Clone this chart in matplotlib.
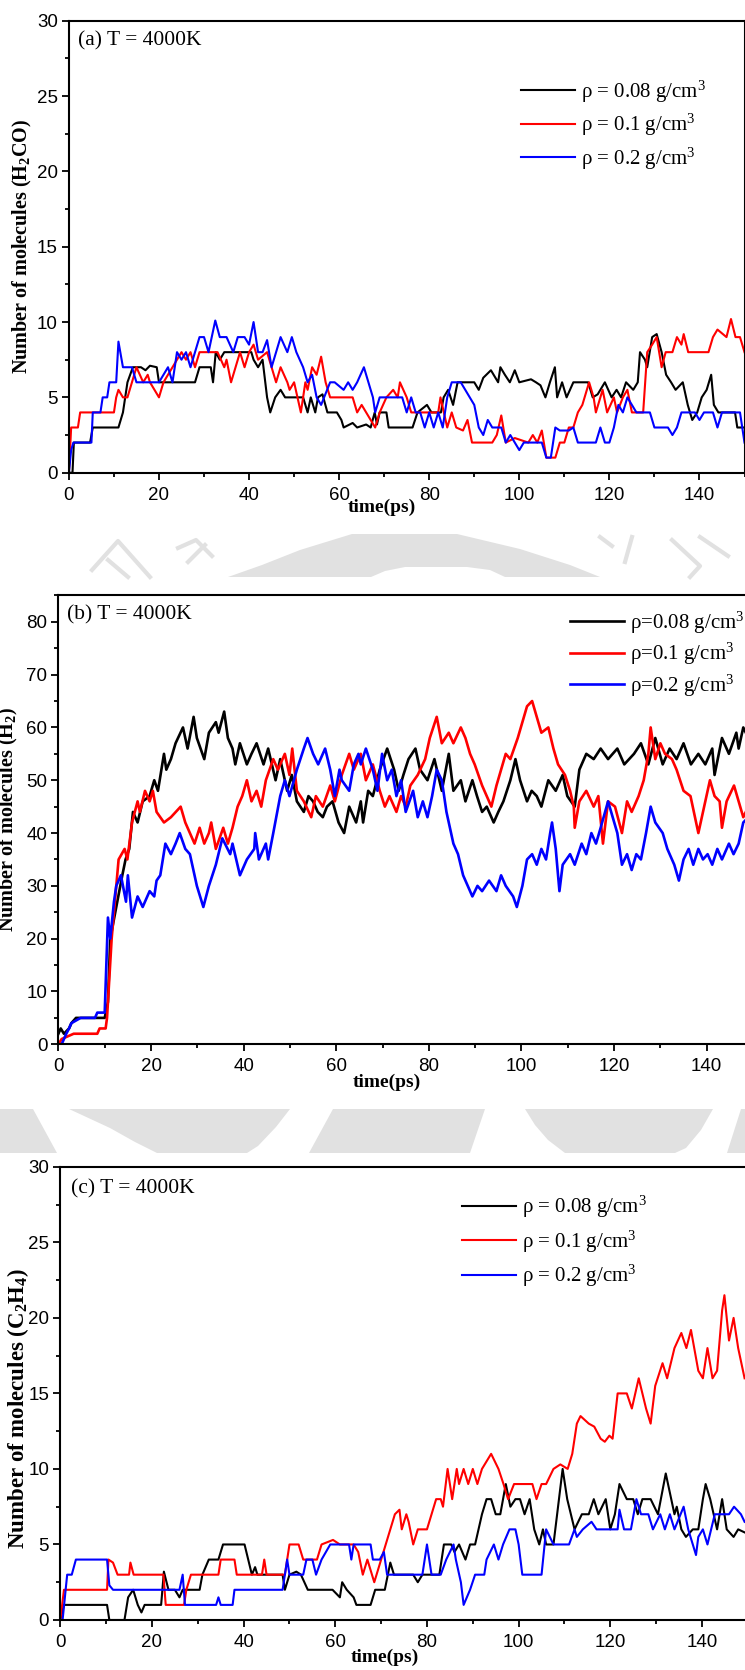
import numpy as np
import matplotlib
matplotlib.use('Agg')
import matplotlib.pyplot as plt
from matplotlib.patches import Polygon
from matplotlib.lines import Line2D
from matplotlib.ticker import MultipleLocator

plt.rcParams.update({
    'font.family': 'Liberation Serif',
    'mathtext.fontset': 'custom',
    'mathtext.rm': 'Liberation Serif',
    'mathtext.it': 'Liberation Serif:italic',
    'mathtext.bf': 'Liberation Serif:bold',
    'axes.linewidth': 1.5,
})

W, H = 745, 1670

# ── data: (time ps, number of molecules) ────────────────────────────────────
densities = ['0.08', '0.1', '0.2']
colors = ['black', 'red', 'blue']

h2co_008 = [(0,0),(0.8,0),(1.1,2),(4.7,2),(5.3,3),(11,3),(12,4),(13,6),(14.2,7),(16,7),(17,6.8),(18,7.1),(19.5,7),(20,6),(28,6),(29,7),(31.5,7),(32,6),(32.6,8),(33.5,7.5),(34.5,8),(40.5,8),(41,7.5),(42,7),(43,7.5),(44,5),(44.7,4),(45.8,5),(47,5.5),(48,5),(52,5),(53,4),(53.7,5),(54.7,4),(55.3,5),(56.3,5.2),(57.4,4),(59.5,4),(60.5,3.5),(61,3),(63,3.3),(64,3),(66,3.2),(67,3),(67.9,4),(68.4,3.2),(69,4),(70.5,4),(71,3),(76.3,3),(77.4,4),(79.5,4.5),(80.5,4),(82.6,4),(83.2,5),(84.2,5.5),(85.3,4.5),(86.3,6),(87.9,6),(90,6),(91,5.5),(92,6.3),(93.7,6.8),(95.3,6),(95.8,7),(96.8,6.5),(97.9,6),(99,6.8),(100,6),(102.6,6.2),(103.7,6),(104.7,5.8),(105.8,5),(106.8,6),(107.9,7),(108.4,5),(109.5,6),(110.5,5),(112,6),(115.3,6),(116.3,5),(117.4,5.2),(119,6),(120.5,5),(121.6,5.5),(122.6,5),(123.7,6),(125.3,5.5),(126.3,6),(126.8,8),(127.9,7.5),(128.4,7),(129.5,9),(130.5,9.2),(131.6,8),(132.6,6.5),(133.7,6),(134.7,5.5),(136.3,6),(137.4,4.5),(138.4,3.5),(139.5,4),(140.5,5),(141.6,5.5),(142.6,6.5),(143.2,4.5),(144.2,4),(147.9,4),(148.4,3),(150,3)]
h2co_01 = [(0,0),(0.5,3),(2,3),(2.5,4),(10,4),(10.5,5),(11,5.5),(12,5),(13,5),(14,6),(15,7),(16.5,6),(17.5,6.5),(18,6),(20,5),(21,6),(22,6.5),(23,7),(25,8),(26,7.5),(27,8),(28,7),(29,8),(33,8),(34.5,7),(35,7.5),(36,6),(37,7),(38,8),(39,7),(40,8),(41,8.5),(42,7.5),(44,8),(45,7),(46,6),(47,7),(48.5,6),(49,5.5),(50,6),(51.5,4),(52.5,6),(53,5.5),(54,7),(55,6.5),(56,7.7),(57,6),(58,5),(63,5),(64,4),(65,4.5),(66,4),(68,3),(69,4),(70.5,5),(72,5.5),(73,5),(73.5,6),(75,5),(76,4),(82,4),(82.5,5),(84,3),(85,4),(86,3),(87.5,2.8),(88.5,3.5),(89.5,2),(93,2),(94,2),(95,2.5),(96,3.8),(97,2),(99,2.3),(102,2),(103,2.5),(104,2),(105,2.8),(106,1),(108,1),(109,2),(110,2),(111,3),(112,3),(113,4),(114,4.5),(115.5,6),(116.5,5),(117,4),(118.5,5.5),(119.5,4),(121,5),(121.7,4),(123,5),(124,5.5),(125,4),(127.5,4),(128.4,8),(129.5,8.5),(130.5,9),(131.6,7),(132.5,8),(134,8),(135,9),(136,8.5),(136.5,9.2),(137.5,8),(142,8),(142.5,8.5),(143,9),(144,9.5),(146,9),(147,10.2),(148,9),(149,9),(150,8)]
h2co_02 = [(0,0),(0.5,1.5),(1,2),(5,2),(5.3,4),(7,4),(7.5,5),(8.5,5),(9,6),(10.5,6),(11,8.7),(12,7),(14,7),(15,6),(20,6),(21,6.5),(22,7),(23,6),(24,8),(25,7.5),(26,8),(27,7),(28,8),(29,9),(30,9),(31,8),(32.5,10.1),(33.5,9),(35,9),(36.5,8),(37.5,9),(39,9),(40,8.5),(41,10),(42,8),(43,8),(44,8.8),(45,7),(46,8),(47,9),(48.5,8),(49.5,9),(50.5,8),(52,7),(53,6),(54,6.5),(55,5),(56,4.5),(58,6),(59,6),(61,5.5),(62,6),(63,5.5),(64,6),(65.5,7),(66.5,6),(67.5,5),(68,4),(69,5),(74,5),(75,4),(76,5),(77,4),(78,4),(79,3),(80,4),(81,3),(82,4),(83,3),(84,5),(85,6),(87,6),(89,5),(90,4.5),(91,3),(92,2.5),(93,3.5),(94,3),(96,3),(97,2),(98,2.5),(100,1.5),(101,2),(105,2),(106,1),(107,1),(108,3),(109,2.8),(111,2.8),(112,3),(113,2),(117,2),(118,3),(119,2),(120,2),(121,3),(122,4.5),(123,4),(124,5),(125,4.5),(126,4),(129,4),(130,3),(133,3),(134,2.5),(135,3),(136,4),(139,4),(140,3.5),(141,4),(143,4),(144,3),(145,4),(149,4),(150,2)]

h2_008 = [(0,2),(0.5,3),(1.2,2),(2.3,3),(2.8,4),(3.8,5),(10,5),(10.7,8),(11.2,20),(12.5,26),(13.8,32),(14.5,35),(15.3,37),(16.1,44),(17.1,42),(18.2,46),(19.7,47),(20.7,50),(21.5,48),(22.8,55),(23.3,52),(24.3,54),(25.3,57),(26.9,60),(27.9,56),(29.2,62),(29.9,58),(31.5,54),(32.5,59),(34,61),(34.6,59),(35.8,63),(36.6,58),(37.6,56),(38.2,53),(39.2,57),(40.7,53),(41.7,55),(42.8,57),(44.3,53),(45.3,56),(46.9,50),(47.9,54),(49.4,48),(50.4,51),(51.5,46),(53,44),(54,47),(55,46),(56,44),(57.1,43),(58,45),(59.2,46),(60.5,42),(61.7,40),(62.8,45),(64.3,42),(65.3,46),(65.8,42),(66.9,48),(67.9,47),(69.4,52),(71,56),(72.5,52),(73.5,48),(74.5,51),(75.6,54),(77.1,56),(78.1,52),(79.7,50),(81.2,54),(82.8,48),(84.3,55),(85.3,48),(86.9,50),(87.9,46),(89.4,50),(90.4,47),(91.5,44),(92.5,45),(94,42),(95,44),(96.1,46),(97.6,50),(98.7,54),(99.7,50),(101.2,46),(102.2,48),(103.3,47),(104.3,45),(105.8,50),(107.4,48),(108.9,51),(109.9,47),(111.5,45),(112.5,52),(114,55),(115.6,54),(117.1,56),(118.7,54),(120.7,56),(122.2,53),(124.3,55),(125.8,57),(127.4,53),(128.9,58),(130.5,53),(132,56),(133.5,54),(135,57),(136.6,53),(138.2,55),(139.7,53),(141.2,56),(141.7,51),(143.3,58),(144.8,55),(146.4,59),(146.9,56),(147.9,60),(149,58)]
h2_01 = [(0,0),(0.7,1),(3.3,2),(8.4,2),(8.9,3),(10.2,3),(10.5,5),(11.5,20),(12.5,30),(13,35),(14.3,37),(14.9,35),(15.9,42),(17.1,46),(17.6,44),(18.7,48),(19.7,46),(20.4,48),(21.2,44),(22.8,42),(24.3,43),(26.4,45),(27.4,42),(28.4,40),(29.4,38),(30.5,41),(31.5,38),(32.5,40),(33,42),(34,37),(35.6,41),(36.6,38),(37.6,41),(38.7,45),(39.7,47),(40.7,50),(41.7,46),(42.8,48),(43.8,45),(44.8,50),(46.4,54),(47.4,52),(48.9,55),(49.9,51),(50.5,56),(51.5,48),(53,46),(54.6,43),(55.6,47),(57.1,45),(58.7,49),(59.7,46),(61.2,51),(62.8,55),(63.8,52),(65.3,55),(66.4,50),(67.9,53),(69.4,48),(70.5,45),(71.5,47),(73,44),(74,47),(75,45),(76,49),(77.6,51),(79.2,54),(80.2,58),(81.7,62),(82.8,57),(84.3,59),(85.3,57),(86.9,60),(87.9,58),(88.9,55),(89.9,53),(91.5,49),(93,46),(93.5,45),(94.6,49),(95.6,52),(96.6,55),(97.6,54),(99.2,58),(100.2,61),(101.2,64),(102.3,65),(103.3,62),(104.3,59),(105.8,60),(106.9,56),(107.9,53),(109.4,51),(110.5,48),(111.3,45),(111.5,41),(112.5,46),(114,48),(115.6,45),(116.6,47),(117.6,38),(118.7,46),(120.2,45),(121.7,40),(122.8,46),(123.8,44),(125.3,47),(126.4,50),(127.4,55),(127.9,60),(128.9,54),(130,57),(131,55),(132.5,54),(133.5,52),(135,48),(136.5,47),(138.2,40),(139.2,44),(140.7,50),(141.7,47),(142.8,46),(143.3,41),(144.3,46),(145.9,49),(146.9,46),(147.9,43),(149,45)]
h2_02 = [(0,0),(0.7,0),(1.2,1),(1.7,2),(2.3,3),(2.8,4),(4.8,5),(7.9,5),(8.4,6),(10,6),(10.7,24),(11.2,20),(12,27),(12.5,30),(13.5,32),(14.6,27),(15,32),(15.9,24),(17.1,28),(18.2,26),(19.7,29),(20.7,28),(21.2,31),(22,32),(23.1,38),(24.3,36),(25.3,38),(26.2,40),(27.4,37),(28.4,36),(29.9,30),(31.3,26),(32.5,30),(34,34),(35.4,39),(37.1,36),(37.6,38),(39.2,32),(40.7,35),(42.3,37),(42.5,40),(43.3,35),(44.8,38),(45.3,35),(46.4,40),(47.9,47),(48.9,50),(49.9,47),(51.5,52),(53,56),(53.8,58),(55,55),(56.1,53),(57.6,56),(58.7,52),(59.7,47),(60.7,52),(61.2,50),(62.8,48),(63.8,53),(64.8,55),(65.3,53),(66.4,56),(67.9,52),(68.9,48),(69.9,55),(71,50),(72,52),(73,47),(74,50),(75,44),(76.6,48),(77.6,43),(78.7,46),(79.7,43),(80.7,47),(81.7,52),(82.8,50),(83.8,44),(85.3,38),(86.3,36),(87.4,32),(88.4,30),(89.4,28),(90.5,30),(91.5,29),(93,31),(94.6,29),(95.6,32),(96.6,30),(98.2,28),(99,26),(100.2,30),(101.2,35),(102.3,36),(103.3,34),(104.3,37),(105.3,35),(106.2,40),(106.6,42),(107.4,37),(108.2,29),(108.9,34),(110.5,36),(111.5,34),(113,38),(114,36),(115.1,40),(116.1,38),(117.1,41),(118.7,46),(119.7,43),(120.7,40),(121.7,34),(122.8,36),(123.8,33),(124.8,36),(125.8,35),(126.9,40),(127.9,45),(128.9,42),(130.5,40),(131.5,37),(133,34),(134,31),(135,35),(136.1,37),(137.1,34),(138.2,37),(139.2,35),(140.2,36),(141.2,34),(142.3,37),(143.3,35),(144.8,38),(145.8,36),(146.9,38),(147.9,42),(149,43)]

c2h4_008 = [(0,0),(0.8,1),(10.2,1),(10.7,0),(14,0),(14.8,1.5),(15.9,2),(16.9,1),(17.7,0.5),(18.4,1),(22,1),(22.6,3.2),(23.6,2),(25,2),(26,1.5),(26.7,2),(30.4,2),(31,3),(32.4,4),(34.5,4),(35.5,5),(40.2,5),(41,4),(41.8,3),(42.5,3.5),(43,3),(48.5,3),(49,2),(50,3),(51.5,3.2),(52.5,3),(54,2),(59.4,2),(61,1.5),(61.5,2.5),(62.5,2),(64,1.5),(64.6,1),(67.7,1),(68.7,2),(70.8,2),(72,3.8),(72.8,3),(77,3),(78,2.5),(79,3),(82.7,3),(83.7,5),(85.3,5),(86,4.5),(87,5),(88.4,4),(89.4,5),(90.5,5),(92,7),(93,8),(94,8),(95,7),(96,7),(97.2,9),(98.2,7.5),(99.3,8),(100.3,8),(101.3,7),(102.4,8),(103.4,6),(104.5,5),(105.3,6),(106,5),(107.6,5),(109.6,10),(110.6,8),(112.2,6),(113.8,7),(115.3,7),(116.4,8),(117.4,7),(119,8),(120,6),(121,7),(122,9),(123.6,8),(125,8),(126,7),(127,8),(128.8,8),(130.4,7),(132.1,9.7),(134,7),(134.5,7.5),(135.5,6),(136.5,5.5),(138,6),(139.2,6),(140.2,8),(140.8,9),(141.8,8),(143.3,6),(144.4,8),(145.4,6),(146.9,5.5),(147.9,6),(149.3,5.8)]
c2h4_01 = [(0,0),(0.8,2),(10.2,2),(10.5,4),(11.5,3.8),(12.5,3),(15,3),(15.3,3.8),(16,3),(22.5,3),(23,1),(27,1),(27.5,2),(28.5,3),(34.5,3),(35,4),(38,4),(38.5,3),(44,3),(44.5,4),(45,3),(49,3),(49.5,4),(50,5),(52,5),(53,4),(56,4),(57,5),(59.5,5.3),(61,5),(64,5),(65,4.5),(66,3),(67,4),(68,3),(68.5,2.5),(69,3),(70,4),(71,5),(72,6),(73,7),(74,7.3),(74.5,6),(75.5,7),(76,6.5),(77,5),(78,6),(80,6),(81,7),(82,8),(83,8),(83.5,7.5),(84.5,10),(85,9),(85.5,8),(86.5,10),(87,9),(88,10),(89,9),(90,10),(91,9),(92,10),(93,10.5),(94,11),(95.6,10),(96.7,9),(97.7,8),(99,9),(103,9),(103.9,8),(105,9),(106,9),(107.6,10),(109.1,10.3),(110.7,10),(111.7,11),(112.7,13),(113.5,13.5),(115.3,13),(116.5,12.8),(117.9,12),(118.8,11.8),(119.8,12.2),(120.5,12),(121.6,15),(123.6,15),(124.7,14),(126.2,16),(127.8,14),(128.8,13),(129.8,15.5),(131.4,17),(132.4,16),(134,18),(135.5,19),(136.6,18),(137.6,19.2),(139.2,16.5),(140.2,16),(141.2,18),(142.3,16),(143.3,16.5),(144.4,20.5),(144.9,21.5),(145.9,18.5),(146.9,20),(147.9,18),(149.3,16)]
c2h4_02 = [(0,0),(0.5,0),(1.5,3),(2.5,3),(3.4,4),(10.2,4),(10.7,2.3),(11.5,2),(26,2),(26.7,3),(27.2,1),(34,1),(34.5,1.5),(35,1),(37.6,1),(38,2),(48.5,2),(49,3),(49.5,4),(50,3),(53,3),(53.7,4),(55,4),(55.8,3),(57,4),(58.9,5),(63,5),(63.5,4),(64,5),(67.7,5),(68.2,4),(69.7,4),(70.6,4.5),(71.3,3),(79,3),(80,5),(81,3),(83,3),(84.2,4),(85.8,5),(86.3,4),(87.4,2.5),(88,1),(89.4,2),(90.5,3),(92.5,3),(93,4),(94.6,5),(95.6,4),(96.6,5),(98,6),(99.3,6),(100,5),(100.8,3),(105,3),(106,6),(107.6,5),(111,5),(112.2,6),(112.7,5.5),(114,6),(115.9,6.5),(117,6),(121.6,6),(122,7.3),(123,6),(124.5,6),(125.7,8),(126.7,7),(128.3,7),(129.3,6),(130.9,7),(131.9,6),(133,7),(134,6),(136,7.5),(137,6),(138.7,4.3),(139.2,5.5),(140.2,6),(141.2,5),(142.8,7),(145.9,7),(147,7.5),(148.5,7),(149.3,6.5)]

panels = [
    dict(series=[h2co_008, h2co_01, h2co_02], ylim=30, ymaj=5, ymin=2.5,
         ylabel=r'Number of molecules (H$_\mathbf{2}$CO)', tag='(a) T = 4000K',
         fmt='ρ = {} g/cm$^3$',
         rect=(68.9, 20.7, 744.5, 472.7), lw=1.5,
         leg=(0.669, 0.872, 0.35), tagxy=(0.013, 0.956),
         ylab=(-0.052, 0.5, 14.5), xlab=(0.4626, -0.058)),
    dict(series=[h2_008, h2_01, h2_02], ylim=85, ymaj=10, ymin=5,
         ylabel=r'Number of molecules (H$_\mathbf{2}$)', tag='(b) T = 4000K',
         fmt='ρ={} g/cm$^3$',
         rect=(58.4, 595.4, 753.0, 1044.3), lw=1.9,
         leg=(0.736, 0.968, 0.25), tagxy=(0.012, 0.957),
         ylab=(-0.055, 0.5, 14.5), xlab=(0.473, -0.066)),
    dict(series=[c2h4_008, c2h4_01, c2h4_02], ylim=30, ymaj=5, ymin=2.5,
         ylabel=r'Number of molecules (C$_\mathbf{2}$H$_\mathbf{4}$)', tag='(c) T = 4000K',
         fmt='ρ = {} g/cm$^3$',
         rect=(60.3, 1166.8, 747.8, 1620.0), lw=1.5,
         leg=(0.584, 0.94, 0.4), tagxy=(0.016, 0.952),
         ylab=(-0.043, 0.466, 16.5), xlab=(0.472, -0.064)),
]

fig = plt.figure(figsize=(W / 100, H / 100), dpi=100)
fig.patch.set_facecolor('white')

# faint watermark visible between the panels
def px(pts):
    return [(x / W, 1 - y / H) for x, y in pts]

grey = '#e1e1e1'
shapes = [
    [(228,577),(262,565),(300,550),(352,534),(457,534),(520,549),(570,565),(600,577),
     (505,577),(490,570),(467,567),(405,567),(385,571),(371,577)],
    [(0,1109),(33,1109),(57,1153),(0,1153)],
    [(69,1109),(290,1109),(276,1127),(258,1146),(247,1153),(157,1153),(135,1142),(110,1128)],
    [(333,1109),(485,1109),(470,1153),(309,1153)],
    [(525,1109),(713,1109),(701,1130),(686,1148),(675,1153),(565,1153),(548,1140),(535,1125)],
    [(741,1109),(745,1109),(745,1153),(727,1153)],
]
for s in shapes:
    fig.add_artist(Polygon(px(s), closed=True, transform=fig.transFigure,
                           facecolor=grey, edgecolor='none', zorder=0))
strokes = [
    [(92,570),(118,541),(150,577)], [(108,560),(128,577)], [(178,548),(196,540),(212,556)],
    [(188,562),(205,545)], [(600,537),(612,546)], [(632,537),(625,562)],
    [(672,540),(700,566),(690,577)], [(700,537),(728,556)],
]
for s in strokes:
    xs, ys = zip(*px(s))
    fig.add_artist(Line2D(xs, ys, transform=fig.transFigure, color=grey, lw=3, zorder=0))

for p in panels:
    x0, y0, x1, y1 = p['rect']
    ax = fig.add_axes([x0 / W, 1 - y1 / H, (x1 - x0) / W, (y1 - y0) / H])
    ax.set_facecolor('white')
    handles = []
    for ser, dens, col in zip(p['series'], densities, colors):
        t, v = np.array(ser).T
        h, = ax.plot(t, v, color=col, lw=p['lw'], label=p['fmt'].format(dens))
        handles.append(h)

    ax.set_xlim(0, 150)
    ax.set_ylim(0, p['ylim'])
    ax.xaxis.set_major_locator(MultipleLocator(20))
    ax.xaxis.set_minor_locator(MultipleLocator(10))
    ax.yaxis.set_major_locator(MultipleLocator(p['ymaj']))
    ax.yaxis.set_minor_locator(MultipleLocator(p['ymin']))
    ax.tick_params(which='both', direction='out', top=False, right=False, width=1.3)
    ax.tick_params(which='major', length=5, labelsize=13.5, labelfontfamily='Liberation Sans')
    ax.tick_params(axis='x', which='major', pad=5)
    ax.tick_params(axis='y', which='major', pad=3)
    ax.tick_params(which='minor', length=3)

    lx_, ly_, lfs = p['ylab']
    ax.set_ylabel(p['ylabel'], fontsize=lfs, fontweight='bold')
    ax.yaxis.set_label_coords(lx_, ly_)
    ax.set_xlabel('time(ps)', fontsize=14, fontweight='bold')
    ax.xaxis.set_label_coords(*p['xlab'])

    ax.text(p['tagxy'][0], p['tagxy'][1], p['tag'], transform=ax.transAxes,
            fontsize=15.5, va='center', ha='left')

    lx, ly, ls = p['leg']
    ax.legend(handles=handles, loc='upper left', bbox_to_anchor=(lx, ly),
              frameon=False, fontsize=15, handlelength=2.6, handletextpad=0.3,
              labelspacing=ls, borderpad=0, borderaxespad=0)

fig.savefig('out.png', dpi=100)
